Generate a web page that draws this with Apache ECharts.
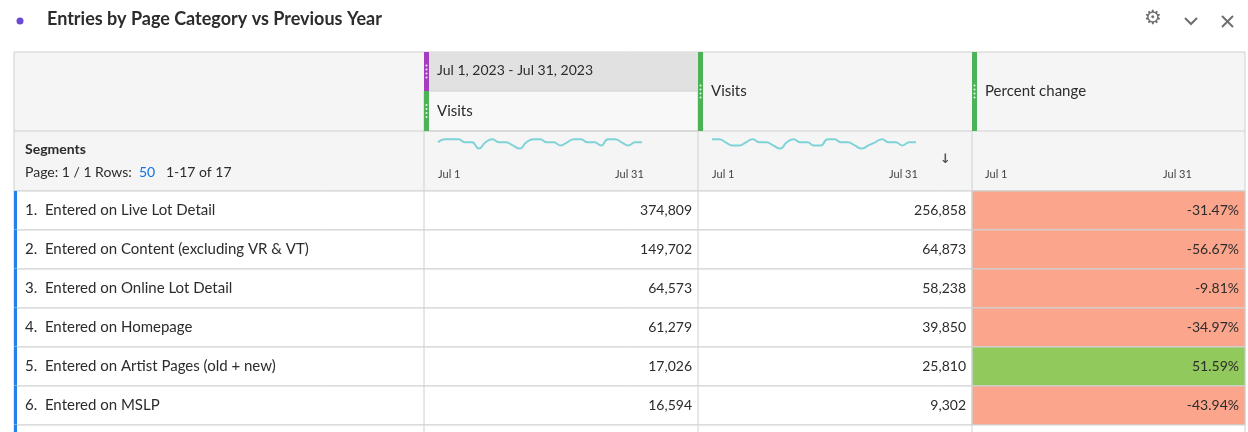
<!DOCTYPE html>
<html>
<head>
<meta charset="utf-8">
<script src="https://cdn.jsdelivr.net/npm/echarts@6/dist/echarts.min.js"></script>
<style>html,body{margin:0;padding:0;background:#fff}#chart{width:1248px;height:432px}</style>
</head>
<body>
<div id="chart"></div>
<script>
// table data
const segments = [
  'Entered on Live Lot Detail',
  'Entered on Content (excluding VR & VT)',
  'Entered on Online Lot Detail',
  'Entered on Homepage',
  'Entered on Artist Pages (old + new)',
  'Entered on MSLP'
];
const visitsCurrent = [374809, 149702, 64573, 61279, 17026, 16594];
const visitsPrevious = [256858, 64873, 58238, 39850, 25810, 9302];
const percentChange = [-31.47, -56.67, -9.81, -34.97, 51.59, -43.94];
const sparkDays = Array.from({ length: 31 }, (_, i) => 'Jul ' + (i + 1));
const sparkCurrent = [5,6,6,6,5,5,3,5,6,5,5,4,3,5,6,6,5,5,4,5,6,6,5,5,4,6,6,5,4,5,5];
const sparkPrevious = [6,6,5,4,4,5,6,5,5,4,3,5,6,5,5,4,4,6,6,5,5,4,3,4,5,6,5,5,4,5,5];

const font = 'Lato, "Open Sans", sans-serif';
const txt = '#2c2c2c';
const L = 14, R = 1245, C1 = 424, C2 = 698, C3 = 972;
const rowTop = 191, rowH = 39;
const fmt = v => v.toLocaleString('en-US');

const g = [];
// title
g.push({ type: 'circle', shape: { cx: 20, cy: 21, r: 3.5 }, style: { fill: '#6b48d6' } });
g.push({ type: 'text', left: 47, top: 10, style: { text: 'Entries by Page Category vs Previous Year', font: 'bold 18px ' + font, fill: txt } });
// icons
g.push({ type: 'text', left: 1144, top: 9, style: { text: '⚙', font: '20px "DejaVu Sans"', fill: '#6e6e6e' } });
g.push({ type: 'polyline', shape: { points: [[1185, 18], [1191, 24], [1197, 18]] }, style: { stroke: '#6e6e6e', lineWidth: 2, fill: null } });
g.push({ type: 'line', shape: { x1: 1222, y1: 16, x2: 1233, y2: 27 }, style: { stroke: '#6e6e6e', lineWidth: 2 } });
g.push({ type: 'line', shape: { x1: 1233, y1: 16, x2: 1222, y2: 27 }, style: { stroke: '#6e6e6e', lineWidth: 2 } });

// header background
g.push({ type: 'rect', shape: { x: L, y: 52, width: R - L, height: 139 }, style: { fill: '#f5f5f5', stroke: '#d0d0d0' } });
g.push({ type: 'rect', shape: { x: C1, y: 52, width: C2 - C1, height: 39 }, style: { fill: '#e1e1e1' } });
g.push({ type: 'rect', shape: { x: C1, y: 91, width: C2 - C1, height: 40 }, style: { fill: '#f8f8f8', stroke: '#d0d0d0' } });
g.push({ type: 'line', shape: { x1: L, y1: 131, x2: R, y2: 131 }, style: { stroke: '#d0d0d0' } });
// column markers
const marker = (x, y, h, c) => {
  g.push({ type: 'rect', shape: { x: x, y: y, width: 5, height: h }, style: { fill: c } });
  for (let k = 0; k < 4; k++) g.push({ type: 'circle', shape: { cx: x + 2.5, cy: y + h / 2 - 6 + k * 4, r: 1 }, style: { fill: '#e8f5e8' } });
};
marker(C1, 52, 39, '#a63cc2');
marker(C1, 91, 40, '#4bb256');
marker(C2, 52, 79, '#4bb256');
marker(C3, 52, 79, '#4bb256');
const hText = (x, y, s, f) => g.push({ type: 'text', left: x, top: y, style: { text: s, font: f || '15px ' + font, fill: txt } });
hText(437, 63, 'Jul 1, 2023 - Jul 31, 2023', '14px ' + font);
hText(437, 104, 'Visits');
hText(711, 84, 'Visits');
hText(985, 84, 'Percent change');
hText(25, 142, 'Segments', 'bold 14px ' + font);
g.push({ type: 'text', left: 25, top: 165, style: { rich: { a: { font: '14px ' + font, fill: txt }, b: { font: '14px ' + font, fill: '#1473e6' } }, text: '{a|Page: 1 / 1 Rows:  }{b|50}{a|   1-17 of 17}' } });
[[438, 'Jul 1'], [615, 'Jul 31'], [712, 'Jul 1'], [889, 'Jul 31'], [985, 'Jul 1'], [1163, 'Jul 31']].forEach(([x, s]) =>
  g.push({ type: 'text', left: x, top: 169, style: { text: s, font: '11px ' + font, fill: '#444' } }));
g.push({ type: 'text', left: 940, top: 153, style: { text: '↓', font: 'bold 13px "DejaVu Sans"', fill: '#555' } });

// body rows
for (let i = 0; i <= segments.length; i++) {
  const y = rowTop + i * rowH;
  g.push({ type: 'rect', shape: { x: L, y: y, width: R - L, height: rowH }, style: { fill: '#fff', stroke: '#d0d0d0' } });
  if (i < segments.length) {
    const pc = percentChange[i];
    g.push({ type: 'rect', shape: { x: C3, y: y, width: R - C3, height: rowH }, style: { fill: pc >= 0 ? '#92c95c' : '#fba68c', stroke: '#d0d0d0' } });
    g.push({ type: 'rect', shape: { x: L, y: y, width: 3, height: rowH }, style: { fill: '#2680eb' } });
    hText(25, y + 12, (i + 1) + '.  ' + segments[i]);
    g.push({ type: 'text', x: C2 - 6, y: y + 12, style: { text: fmt(visitsCurrent[i]), align: 'right', font: '14px ' + font, fill: txt } });
    g.push({ type: 'text', x: C3 - 6, y: y + 12, style: { text: fmt(visitsPrevious[i]), align: 'right', font: '14px ' + font, fill: txt } });
    g.push({ type: 'text', x: R - 6, y: y + 12, style: { text: pc.toFixed(2) + '%', align: 'right', font: '14px ' + font, fill: txt } });
  } else {
    g.push({ type: 'rect', shape: { x: L, y: y, width: 3, height: rowH }, style: { fill: '#2680eb' } });
  }
}
[C1, C2, C3].forEach(x => g.push({ type: 'line', shape: { x1: x, y1: 131, x2: x, y2: 432 }, style: { stroke: '#d0d0d0' } }));

const spark = (idx, data) => ({
  type: 'line', xAxisIndex: idx, yAxisIndex: idx, data: data, symbol: 'none', smooth: true,
  lineStyle: { color: '#7fd3d6', width: 2 }, silent: true
});
const axisX = idx => ({ type: 'category', gridIndex: idx, data: sparkDays, show: false, boundaryGap: false });
const axisY = idx => ({ type: 'value', gridIndex: idx, show: false, min: 0, max: 7 });

const chart = echarts.init(document.getElementById('chart'));
chart.setOption({
  animation: false,
  backgroundColor: '#fff',
  grid: [
    { left: 438, width: 204, top: 136, height: 22 },
    { left: 712, width: 204, top: 136, height: 22 }
  ],
  xAxis: [axisX(0), axisX(1)],
  yAxis: [axisY(0), axisY(1)],
  series: [spark(0, sparkCurrent), spark(1, sparkPrevious)],
  graphic: { elements: g }
});
</script>
</body>
</html>
